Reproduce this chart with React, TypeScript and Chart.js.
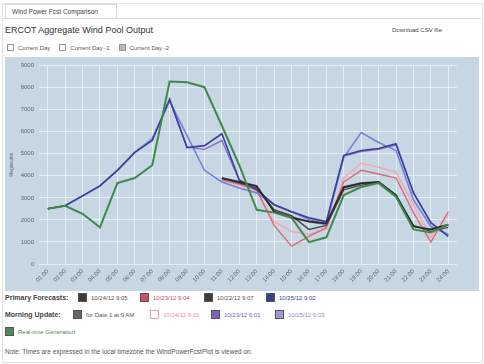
import React, { useEffect, useRef } from "react";
import { Chart, registerables } from "chart.js";

Chart.register(...registerables);

const hours = [
  "01:00", "02:00", "03:00", "04:00", "05:00", "06:00", "07:00", "08:00",
  "09:00", "10:00", "11:00", "12:00", "13:00", "14:00", "15:00", "16:00",
  "17:00", "18:00", "19:00", "20:00", "21:00", "22:00", "23:00", "24:00",
];

const yTicks = [0, 1000, 2000, 3000, 4000, 5000, 6000, 7000, 8000, 9000];

const realTime = [2510, 2640, 2280, 1660, 3670, 3900, 4480, 8280, 8240, 8020, 6270, 4480, 2460, 2330, 2100, 990, 1210, 3130, 3490, 3670, 3050, 1570, 1430, 1790];

const primary1 = [null, null, null, null, null, null, null, null, null, null, 3900, 3720, 3540, 2370, 2100, 1930, 1840, 3490, 3670, 3720, 3130, 1700, 1570, 1790];
const primary2 = [null, null, null, null, null, null, null, null, null, null, 3810, 3630, 3360, 1750, 810, 1250, 1660, 3720, 4250, 4080, 3900, 2330, 990, 2370];
const primary3 = [null, null, null, null, null, null, null, null, null, null, 3900, 3670, 3450, 2460, 2190, 1570, 1750, 3360, 3580, 3670, 3050, 1750, 1480, 1660];
const primary4 = [2510, 2640, 3090, 3540, 4250, 5060, 5600, 7480, 5280, 5370, 5910, 3810, 3360, 2690, 2370, 2100, 1930, 4930, 5150, 5240, 5460, 3220, 1880, 1250];

const morning1 = [null, null, null, null, null, null, null, null, null, null, 3880, 3700, 3500, 2400, 2150, 1900, 1800, 3450, 3640, 3700, 3100, 1720, 1550, 1760];
const morning2 = [null, null, null, null, null, null, null, null, null, null, 3810, 3580, 3270, 1930, 1480, 1340, 1570, 3900, 4570, 4390, 4160, 2690, 1210, 2240];
const morning3 = [2510, 2640, 3090, 3540, 4250, 5060, 5650, 7440, 5300, 5200, 5600, 3800, 3380, 2700, 2370, 2080, 1900, 4900, 5100, 5200, 5400, 3250, 1850, 1300];
const morning4 = [2510, 2640, 3090, 3540, 4250, 5060, 5690, 7390, 5820, 4250, 3720, 3450, 3220, 2690, 2370, 2020, 1790, 4840, 5960, 5510, 5150, 2910, 1700, 1340];

const primaryLabels = ["10/24/12 9:05", "10/23/12 9:04", "10/22/12 9:07", "10/25/12 9:02"];
const morningLabels = ["for Date 1 at 9 AM", "10/24/12 6:02", "10/23/12 6:01", "10/25/12 6:03"];

function LegendBox({ color, outline }: { color: string; outline?: boolean }) {
  return (
    <span
      style={{
        display: "inline-block",
        width: 7,
        height: 7,
        background: outline ? "#fff" : color,
        border: `1px solid ${outline ? color : "#555"}`,
        marginRight: 4,
        verticalAlign: "middle",
        flex: "none",
      }}
    />
  );
}

export default function App() {
  const canvasRef = useRef<HTMLCanvasElement | null>(null);

  useEffect(() => {
    if (!canvasRef.current) return;
    const ds = (label: string, data: (number | null)[], color: string, width = 1.6) => ({
      label,
      data,
      borderColor: color,
      backgroundColor: color,
      borderWidth: width,
      pointRadius: 0,
      tension: 0,
      fill: false,
      spanGaps: false,
    });
    const chart = new Chart(canvasRef.current, {
      type: "line",
      data: {
        labels: hours,
        datasets: [
          ds("Real-time Generation", realTime, "#3e8a4c", 2),
          ds(primaryLabels[0], primary1, "#2a2a2a", 1.8),
          ds(primaryLabels[3], primary4, "#3a3f9c", 1.6),
          ds(morningLabels[3], morning4, "#7483d8", 1.6),
          ds(primaryLabels[2], primary3, "#4b4b4b", 1.4),
          ds(morningLabels[0], morning1, "#707070", 1.4),
          ds(primaryLabels[1], primary2, "#dc6a7c", 1.4),
          ds(morningLabels[1], morning2, "#f2aab3", 1.6),
          ds(morningLabels[2], morning3, "#8a6cc8", 1.4),
        ],
      },
      options: {
        animation: false,
        responsive: false,
        devicePixelRatio: 1,
        layout: { padding: { left: 4, right: 22, top: 7, bottom: 0 } },
        plugins: { legend: { display: false }, tooltip: { enabled: false } },
        scales: {
          x: {
            offset: true,
            grid: { color: "rgba(255,255,255,0.55)", drawTicks: false },
            border: { display: false },
            ticks: {
              minRotation: 45,
              maxRotation: 45,
              autoSkip: false,
              padding: 4,
              color: "#666",
              font: { size: 6, family: "Liberation Sans" },
            },
            afterFit: (s: any) => {
              s.height = 27;
            },
          },
          y: {
            min: 0,
            max: 9000,
            afterBuildTicks: (s: any) => {
              s.ticks = yTicks.map((v) => ({ value: v }));
            },
            grid: { color: "rgba(255,255,255,0.55)", drawTicks: false },
            border: { display: false },
            ticks: {
              padding: 5,
              color: "#666",
              font: { size: 6, family: "Liberation Sans" },
              callback: (v: any) => String(v),
            },
            title: {
              display: true,
              text: "Megawatts",
              color: "#666",
              padding: 0,
              font: { size: 5, family: "Liberation Sans" },
            },
            afterFit: (s: any) => {
              s.width = 30;
            },
          },
        },
      },
    });
    return () => chart.destroy();
  }, []);

  const font = "'Liberation Sans', Arial, sans-serif";
  const small: React.CSSProperties = { fontSize: 6, color: "#555", fontFamily: font, whiteSpace: "nowrap" };
  const head: React.CSSProperties = { fontWeight: "bold", color: "#444", fontSize: 7 };

  return (
    <div style={{ position: "absolute", left: 0, top: 0, width: 484, height: 364, background: "#fff", fontFamily: font, overflow: "hidden" }}>
      <div style={{ position: "absolute", left: 2, top: 3, width: 479, height: 358, border: "1px solid #e2e2e2" }} />
      <div style={{ position: "absolute", left: 5, top: 4, width: 110, height: 14, border: "1px solid #d8d8d8", borderBottom: "none", background: "#fff" }} />
      <div style={{ position: "absolute", left: 12, top: 8, ...small, fontSize: 6.5, color: "#444" }}>Wind Power Fcst Comparison</div>
      <div style={{ position: "absolute", left: 3, top: 18, width: 478, height: 1, background: "#d8d8d8" }} />
      <div style={{ position: "absolute", left: 5, top: 25, fontSize: 9, color: "#333", fontFamily: font }}>ERCOT Aggregate Wind Pool Output</div>
      <div style={{ position: "absolute", left: 392, top: 27, ...small, color: "#444" }}>Download CSV file</div>
      <div style={{ position: "absolute", left: 7, top: 44, ...small, display: "flex", alignItems: "center" }}>
        <span style={{ display: "inline-block", width: 5, height: 5, border: "1px solid #999", marginRight: 4 }} />
        <span style={{ marginRight: 9 }}>Current Day</span>
        <span style={{ display: "inline-block", width: 5, height: 5, border: "1px solid #999", marginRight: 4 }} />
        <span style={{ marginRight: 9 }}>Current Day -1</span>
        <span style={{ display: "inline-block", width: 5, height: 5, border: "1px solid #999", background: "#bbb", marginRight: 4 }} />
        <span>Current Day -2</span>
      </div>
      <div style={{ position: "absolute", left: 5, top: 57, width: 474, height: 234, background: "#c6d6e2" }}>
        <canvas ref={canvasRef} width={474} height={234} style={{ display: "block" }} />
      </div>
      <div style={{ position: "absolute", left: 5, top: 293, ...small, display: "flex", alignItems: "center" }}>
        <span style={{ ...head, width: 73 }}>Primary Forecasts:</span>
        <LegendBox color="#3a3a3a" />
        <span style={{ width: 49 }}>{primaryLabels[0]}</span>
        <LegendBox color="#cc5066" />
        <span style={{ width: 51, color: "#cc5066" }}>{primaryLabels[1]}</span>
        <LegendBox color="#3c3c3c" />
        <span style={{ width: 49 }}>{primaryLabels[2]}</span>
        <LegendBox color="#3a3f8f" />
        <span style={{ color: "#3a3f8f" }}>{primaryLabels[3]}</span>
      </div>
      <div style={{ position: "absolute", left: 5, top: 310, ...small, display: "flex", alignItems: "center" }}>
        <span style={{ ...head, width: 68 }}>Morning Update:</span>
        <LegendBox color="#666" />
        <span style={{ width: 64 }}>{morningLabels[0]}</span>
        <LegendBox color="#f0a0ac" outline />
        <span style={{ width: 48, color: "#ee8fa0" }}>{morningLabels[1]}</span>
        <LegendBox color="#7d62bd" />
        <span style={{ width: 51, color: "#7d62bd" }}>{morningLabels[2]}</span>
        <LegendBox color="#9a9ad4" />
        <span style={{ color: "#8f8fce" }}>{morningLabels[3]}</span>
      </div>
      <div style={{ position: "absolute", left: 5, top: 327, ...small, display: "flex", alignItems: "center" }}>
        <LegendBox color="#4e8a56" />
        <span style={{ color: "#4e8a56" }}>Real-time Generation</span>
      </div>
      <div style={{ position: "absolute", left: 5, top: 348, ...small, fontSize: 6.5, color: "#555" }}>
        Note: Times are expressed in the local timezone the WindPowerFcstPlot is viewed on.
      </div>
    </div>
  );
}
